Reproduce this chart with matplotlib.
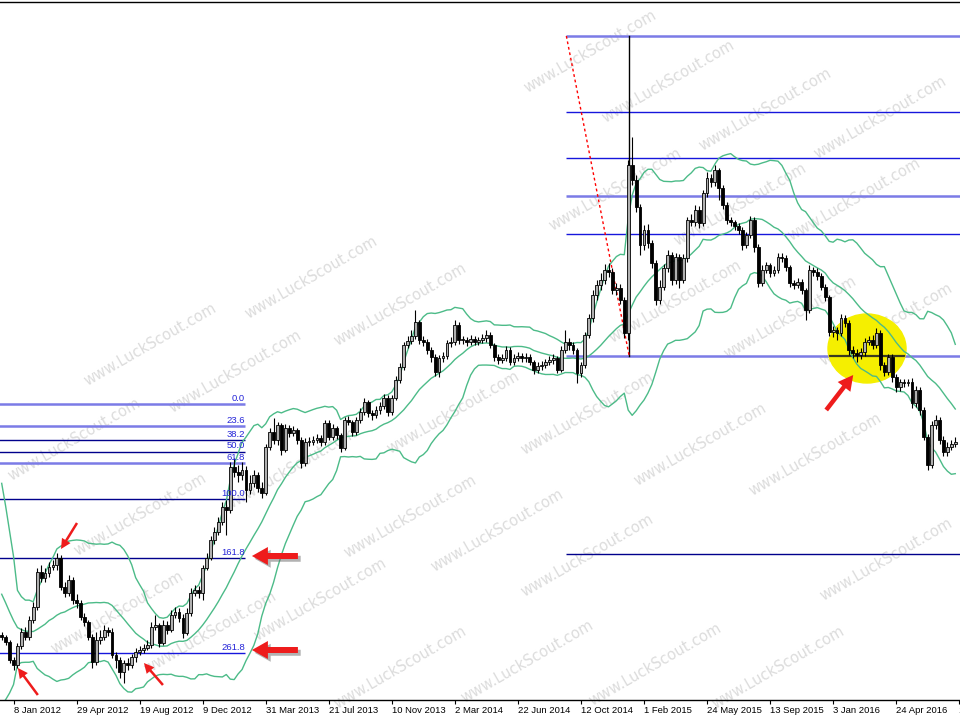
import matplotlib
matplotlib.use('Agg')
import matplotlib.pyplot as plt
import matplotlib.patheffects as pe
import matplotlib.transforms as mtransforms
from matplotlib.patches import Ellipse
import numpy as np
import pandas as pd

# weekly closes before the visible window, only used to seed the bands
pre_close = [250, 242, 225, 215, 130, 115, 100, 120, 105, 90,
             95, 80, 110, 100, 90, 105, 95, 80, 85]

# weekly bars, first visible bar = 18 Dec 2011
close = [
    83, 78, 60, 55, 74, 88, 83, 100, 113, 148, 142, 147, 153, 155, 162, 133, 127, 140, 120, 117,
    103, 98, 83, 58, 80, 83, 90, 88, 65, 60, 48, 57, 55, 63, 68, 70, 72, 75, 93, 95,
    77, 95, 90, 105, 108, 102, 87, 107, 127, 130, 127, 152, 162, 180, 188, 198, 213, 210, 253, 248,
    245, 250, 230, 237, 245, 232, 227, 273, 288, 280, 295, 270, 292, 287, 290, 280, 257, 278, 278, 280,
    282, 278, 297, 283, 292, 285, 272, 300, 298, 288, 300, 308, 318, 307, 305, 310, 314, 322, 308, 322,
    340, 353, 375, 379, 384, 398, 380, 378, 370, 363, 348, 362, 364, 377, 378, 395, 380, 380, 378, 381,
    378, 380, 382, 385, 375, 363, 360, 362, 370, 358, 362, 364, 362, 363, 358, 350, 354, 355, 358, 360,
    362, 350, 370, 378, 375, 370, 347, 355, 385, 402, 425, 435, 440, 450, 448, 430, 432, 420, 387, 555,
    540, 513, 475, 490, 477, 457, 420, 433, 452, 465, 440, 463, 440, 462, 500, 498, 510, 497, 527, 542,
    538, 550, 532, 515, 500, 498, 494, 490, 475, 485, 500, 473, 437, 450, 455, 447, 450, 463, 462, 453,
    437, 435, 438, 430, 410, 450, 448, 444, 433, 423, 388, 390, 387, 402, 397, 370, 367, 365, 368, 378,
    380, 375, 387, 355, 348, 363, 343, 333, 338, 337, 338, 317, 330, 310, 283, 255, 295, 300, 280, 268,
    273, 276, 278]

high = [
    88, 85, 80, 63, 77, 92, 93, 104, 118, 152, 155, 152, 158, 160, 167, 165, 138, 145, 143, 126,
    120, 107, 100, 86, 88, 90, 95, 93, 92, 68, 63, 60, 62, 66, 72, 74, 76, 80, 98, 105,
    97, 100, 99, 110, 113, 112, 106, 112, 132, 135, 134, 155, 167, 184, 193, 203, 218, 220, 258, 262,
    255, 258, 254, 245, 250, 248, 238, 276, 292, 302, 298, 297, 296, 295, 294, 292, 283, 282, 283, 284,
    286, 285, 300, 300, 296, 294, 287, 303, 304, 300, 303, 312, 322, 320, 310, 314, 318, 326, 325, 325,
    344, 357, 378, 384, 390, 410, 400, 384, 381, 373, 366, 365, 368, 380, 383, 400, 398, 384, 383, 385,
    384, 383, 386, 390, 388, 377, 366, 366, 374, 373, 366, 368, 367, 367, 366, 360, 358, 359, 361, 364,
    366, 364, 374, 390, 382, 378, 372, 358, 388, 406, 430, 440, 447, 456, 457, 452, 437, 436, 423, 560,
    583, 545, 516, 495, 496, 480, 460, 440, 456, 470, 468, 467, 466, 466, 503, 506, 515, 514, 530, 548,
    546, 555, 552, 535, 518, 503, 500, 497, 493, 488, 504, 503, 476, 455, 458, 457, 454, 467, 467, 465,
    455, 440, 442, 441, 432, 455, 453, 452, 447, 436, 425, 394, 393, 406, 405, 400, 374, 371, 372, 382,
    384, 385, 392, 390, 358, 366, 366, 346, 341, 341, 341, 342, 334, 333, 313, 286, 299, 305, 303, 284,
    278, 280, 283]

low = [
    80, 75, 57, 50, 52, 71, 80, 80, 97, 110, 138, 138, 143, 150, 150, 130, 123, 124, 116, 112,
    100, 94, 80, 52, 55, 76, 80, 84, 62, 52, 42, 37, 50, 52, 58, 65, 67, 70, 72, 90,
    73, 75, 86, 88, 102, 98, 82, 85, 104, 124, 122, 120, 150, 160, 176, 185, 195, 185, 207, 243,
    238, 240, 218, 226, 233, 228, 222, 225, 270, 276, 275, 265, 268, 283, 284, 276, 252, 254, 274, 275,
    277, 274, 275, 280, 280, 281, 268, 270, 295, 284, 285, 297, 305, 303, 300, 302, 306, 311, 304, 305,
    320, 337, 350, 372, 376, 381, 376, 374, 366, 358, 344, 343, 358, 361, 373, 375, 376, 376, 374, 375,
    375, 375, 377, 378, 372, 359, 356, 357, 359, 355, 355, 359, 358, 358, 355, 346, 347, 350, 352, 355,
    356, 347, 348, 367, 370, 366, 337, 343, 352, 382, 398, 420, 430, 436, 443, 426, 425, 416, 382, 380,
    535, 508, 465, 470, 472, 452, 415, 416, 430, 448, 435, 436, 432, 437, 458, 494, 494, 492, 494, 523,
    533, 534, 520, 511, 496, 494, 490, 486, 470, 472, 482, 468, 433, 434, 447, 443, 444, 447, 458, 449,
    433, 431, 432, 426, 400, 407, 444, 440, 430, 419, 384, 383, 380, 384, 393, 365, 362, 358, 361, 364,
    375, 371, 372, 350, 344, 345, 338, 328, 329, 333, 334, 312, 313, 305, 280, 250, 252, 291, 276, 264,
    264, 270, 273]

tick_labels = ['8 Jan 2012', '29 Apr 2012', '19 Aug 2012', '9 Dec 2012', '31 Mar 2013',
               '21 Jul 2013', '10 Nov 2013', '2 Mar 2014', '22 Jun 2014', '12 Oct 2014',
               '1 Feb 2015', '24 May 2015', '13 Sep 2015', '3 Jan 2016', '24 Apr 2016',
               '14 Aug 2016']

# fibonacci tools: price at 0% and at 100%
fib_levels = [0.0, 23.6, 38.2, 50.0, 61.8, 100.0, 161.8, 261.8]
left_fib = (316, 221)
right_fib = (684, 364)
right_fib_levels = [0.0, 23.6, 38.2, 50.0, 61.8, 100.0, 161.8]

LIGHT = ('#7b7be6', 1.8)
DARK = ('#00008c', 1.0)
BLUE = ('#1616dc', 1.0)
left_style = {0.0: LIGHT, 23.6: LIGHT, 38.2: DARK, 50.0: DARK, 61.8: LIGHT,
              100.0: DARK, 161.8: DARK, 261.8: BLUE}
right_style = {0.0: LIGHT, 23.6: BLUE, 38.2: BLUE, 50.0: LIGHT, 61.8: BLUE,
               100.0: LIGHT, 161.8: DARK}

fig = plt.figure(figsize=(9.6, 7.2), dpi=100)
ax = fig.add_axes([0, 20 / 720, 1, 698 / 720])
ax.set_xlim(-0.43, 243.2)
ax.set_ylim(20, 718)

x = np.arange(len(close))
c = np.array(close, dtype=float)
o = np.array([pre_close[-1]] + close[:-1], dtype=float)
h = np.array(high, dtype=float)
l = np.array(low, dtype=float)

# watermarks (pixel centres)
wm_centers = [(590, 52), (668, 82), (765, 110), (880, 118), (615, 190), (740, 205), (854, 200),
              (311, 278), (400, 305), (675, 302), (790, 318), (886, 325),
              (150, 345), (235, 372), (453, 413), (587, 414), (700, 445), (815, 455),
              (74, 440), (140, 515), (290, 470), (410, 517), (497, 531), (587, 556),
              (886, 560), (117, 613), (210, 633), (320, 600), (527, 662), (655, 665),
              (778, 668), (400, 668)]
for cx, cy in wm_centers:
    ax.text(cx / 960, 1 - cy / 720, 'www.LuckScout.com', transform=fig.transFigure,
            rotation=30, ha='center', va='center', fontsize=10.5, color='#dcdcdc',
            family='DejaVu Sans', zorder=0.5)

# left fibo
left_end = 61.75
for lvl in fib_levels:
    p = left_fib[0] + (left_fib[1] - left_fib[0]) * lvl / 100
    col, lw = left_style[lvl]
    ax.hlines(p, -5, left_end, color=col, lw=lw, zorder=1)
    ax.text(left_end, p + 1.2, f'{lvl:.1f}', ha='right', va='bottom', fontsize=6.8,
            color='#2424d8', family='Liberation Sans', zorder=5)

# right fibo
right_start = 143.3
for lvl in right_fib_levels:
    p = right_fib[0] + (right_fib[1] - right_fib[0]) * lvl / 100
    col, lw = right_style[lvl]
    ax.hlines(p, right_start, 260, color=col, lw=lw, zorder=1)
ax.plot([159.2, 159.2], [right_fib[1], right_fib[0]], color='black', lw=1, zorder=1)
ax.plot([right_start, 159.2], [right_fib[0], right_fib[1] + 1], color='red', lw=1,
        ls=(0, (2, 2)), zorder=1)

# highlight circle
ell = Ellipse((219.6, 371.5), 19.8, 69, color='#f5ef00', zorder=1.5)
ax.add_patch(ell)
dark = ax.hlines(right_fib[1], right_start, 260, color='#3a3a20', lw=1.6, zorder=1.6)
dark.set_clip_path(ell)

# bollinger bands (20, 2)
s = pd.Series(pre_close + close, dtype=float)
mid = s.rolling(20).mean().values[len(pre_close):]
sd = s.rolling(20).std(ddof=0).values[len(pre_close):]
for band in (mid, mid + 2 * sd, mid - 2 * sd):
    ax.plot(x, band, color='#4cbb88', lw=1, zorder=2)

# candles
up = c >= o
body = np.maximum(np.abs(c - o), 0.8)
bottom = np.minimum(o, c)
ax.vlines(x, l, h, color='black', lw=0.8, zorder=3)
ax.bar(x[up], body[up], bottom=bottom[up], width=0.72, color='#b0b0b0',
       edgecolor='black', linewidth=0.6, zorder=4)
ax.bar(x[~up], body[~up], bottom=bottom[~up], width=0.72, color='black',
       edgecolor='black', linewidth=0.6, zorder=4)

# red arrows: tip (bar, price), tail offset in pixels, size
arrows = [(15.05, 171, 16, 26, 'small'), (4.1, 52, 20, -27, 'small'),
          (36.1, 57, 19, -22, 'small'), (216.1, 345, -27, -35, 'mid'),
          (63.5, 164, 46, 0, 'big'), (63.5, 70, 46, 0, 'big')]
sizes = {'small': (1.0, 1.0, 0.25), 'mid': (1.5, 1.6, 0.45), 'big': (1.6, 1.8, 0.6)}
for ti, tp, dx, dy, kind in arrows:
    hl, hw, tw = sizes[kind]
    ann = ax.annotate('', xy=(ti, tp), xytext=(dx, dy), textcoords='offset pixels',
                      arrowprops=dict(arrowstyle=f'simple,head_length={hl},head_width={hw},tail_width={tw}',
                                      fc='#ee1c1c', ec='none', shrinkA=0, shrinkB=0,
                                      mutation_scale=7.2), zorder=6)
    if kind == 'big':
        ann.arrow_patch.set_path_effects([
            pe.SimplePatchShadow(offset=(2, -2), shadow_rgbFace='#666666', alpha=0.5),
            pe.Normal()])

# axes
ax.set_xticks(np.arange(3, 3 + 16 * len(tick_labels), 16))
ax.set_xticklabels(tick_labels, fontsize=6.8, family='Liberation Sans')
offset = mtransforms.ScaledTranslation(0.02, 0, fig.dpi_scale_trans)
for lab in ax.get_xticklabels():
    lab.set_horizontalalignment('left')
    lab.set_transform(lab.get_transform() + offset)
ax.tick_params(axis='x', direction='out', length=3, width=0.8, pad=1.5)
ax.set_yticks([])
ax.spines['left'].set_visible(False)
ax.spines['right'].set_visible(False)
ax.spines['bottom'].set_linewidth(1)
ax.spines['top'].set_linewidth(1)

fig.savefig('out.png', dpi=100)
